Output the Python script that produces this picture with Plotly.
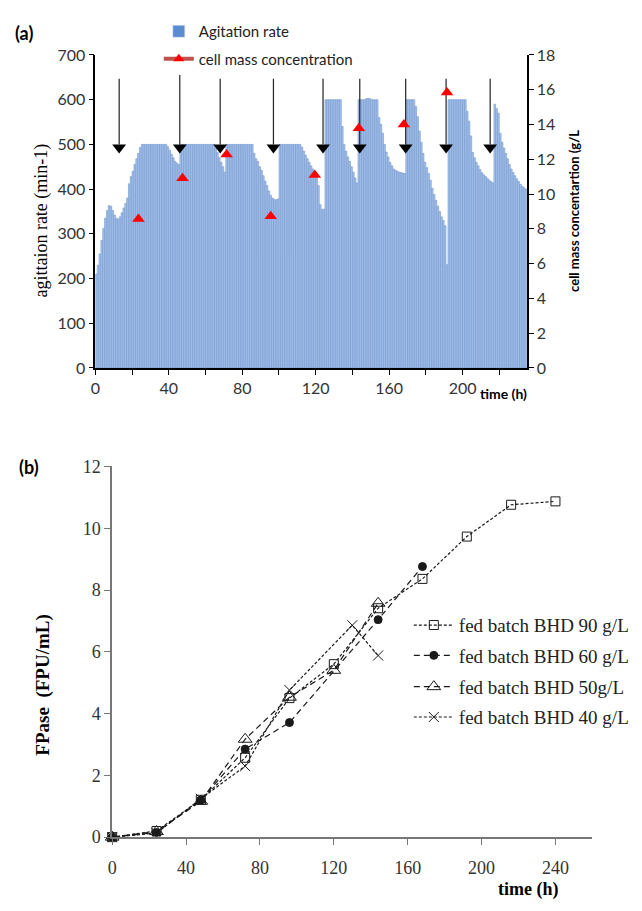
import plotly.graph_objects as go

# ---- panel (a): agitation rate (one bar per hour) and cell mass ----
agitation_rate = [
    210, 230, 255, 285, 312, 335, 352, 363, 362, 352, 342, 335, 333, 338, 347, 358,
    368, 380, 412, 428, 440, 455, 468, 480, 493, 500,
    500, 500, 500, 500, 500, 500, 500, 500, 500, 500, 500, 500, 500,
    495, 487, 478, 470, 462, 458, 455,
    500, 500, 500, 500, 500, 500, 500, 500, 500, 500, 500, 500, 500, 500, 500, 500, 500, 500, 500,
    492, 482, 470, 460, 450, 438,
    500, 500, 500, 500, 500, 500, 500, 500, 500, 500, 500, 500, 500, 500, 500,
    480, 468, 462, 450, 442, 430, 418, 408, 396, 386, 380, 377, 376, 378,
    500, 500, 500, 500, 500, 500, 500, 500, 500, 500, 500, 500,
    494, 485, 476, 468, 460, 452, 445, 438, 425, 408, 365, 355, 355,
    600, 600, 600, 600, 600, 600, 600, 600, 600,
    540, 500, 485, 472, 462, 450, 438, 425, 414,
    600, 600, 600, 600, 602, 603, 602, 600, 600, 600, 600,
    560, 545, 525, 500, 483, 472, 460, 452, 445, 442, 440, 438, 437, 436, 435,
    600, 600, 600, 600, 600,
    585, 562, 530, 505, 480, 460, 448, 435, 420, 402, 388, 375, 362, 350, 338, 330, 318, 231,
    600, 600, 600, 600, 600, 600, 600, 600, 600, 600,
    574, 552, 519, 482, 470, 460, 452, 444, 437, 432, 428, 424, 420, 417, 414,
    590, 580, 570, 525, 505, 492, 480, 468, 455, 445, 437, 430, 423, 417, 411, 406, 403, 400,
]
hours = list(range(len(agitation_rate)))

cell_mass_time = [23.5, 47.5, 71.5, 95.5, 119.5, 143.5, 168, 191.5]
cell_mass = [8.57, 10.91, 12.28, 8.72, 11.1, 13.78, 14.0, 15.84]

# feeding points (arrows)
feed_time = [13, 46, 68, 97, 124, 144, 169, 191, 215]
feed_top = [647, 655, 647, 647, 647, 647, 647, 647, 647]

# ---- panel (b): FPase for the fed batches ----
t_90 = [0, 24, 48, 72, 96, 120, 144, 168, 192, 216, 240]
fpase_90 = [0, 0.2, 1.21, 2.57, 4.5, 5.6, 7.41, 8.36, 9.73, 10.76, 10.87]
t_60 = [0, 24, 48, 72, 96, 144, 168]
fpase_60 = [0, 0.15, 1.2, 2.85, 3.71, 7.04, 8.76]
t_50 = [0, 24, 48, 72, 96, 120, 144]
fpase_50 = [0, 0.18, 1.16, 3.17, 4.53, 5.4, 7.57]
t_40 = [0, 24, 48, 72, 96, 130, 144]
fpase_40 = [0, 0.13, 1.24, 2.30, 4.76, 6.86, 5.88]

W, H = 642, 911
def px(x):
    return x / W
def py(y):
    return 1 - y / H

SANS = "Lato"
SERIF = "Liberation Serif"

fig = go.Figure()

# bars
fig.add_trace(go.Bar(
    x=hours, y=agitation_rate, offset=0.05, width=0.9,
    marker=dict(color="#abc5e9", line=dict(color="#6f96d1", width=0.6)),
    showlegend=False, xaxis="x", yaxis="y"))

# arrow shafts + heads
shaft_x, shaft_y = [], []
for t, top in zip(feed_time, feed_top):
    shaft_x += [t, t, None]
    shaft_y += [top, 500, None]
fig.add_trace(go.Scatter(x=shaft_x, y=shaft_y, mode="lines",
                         line=dict(color="#222", width=1.2),
                         showlegend=False, xaxis="x", yaxis="y"))
fig.add_trace(go.Scatter(x=feed_time, y=[493] * len(feed_time), mode="markers",
                         marker=dict(symbol="triangle-down", size=12, color="black"),
                         showlegend=False, xaxis="x", yaxis="y", cliponaxis=False))

# cell mass triangles
fig.add_trace(go.Scatter(x=cell_mass_time, y=cell_mass, mode="markers",
                         marker=dict(symbol="triangle-up", size=11, color="#ff0000"),
                         showlegend=False, xaxis="x", yaxis="y2", cliponaxis=False))

# legend entries for panel (a)
fig.add_trace(go.Bar(x=[None], y=[None], name="Agitation rate",
                     marker=dict(color="#5b8bd0"), legend="legend",
                     xaxis="x", yaxis="y"))
fig.add_trace(go.Scatter(x=[None], y=[None], name="cell mass concentration",
                         mode="lines+markers", line=dict(color="#c0504d", width=4),
                         marker=dict(symbol="triangle-up", size=10, color="#ff0000"),
                         legend="legend2", xaxis="x", yaxis="y2"))

# panel (b) series
series_b = [
    (t_90, fpase_90, "fed batch BHD 90 g/L", "square-open", 9, "3px,2px", "legend3"),
    (t_60, fpase_60, "fed batch BHD 60 g/L", "circle", 8, "6px,4px", "legend4"),
    (t_50, fpase_50, "fed batch BHD 50g/L", "triangle-up-open", 12, "6px,4px", "legend5"),
    (t_40, fpase_40, "fed batch BHD 40 g/L", "x-thin-open", 10, "3px,2px", "legend6"),
]
for t, v, name, sym, size, dash, leg in series_b:
    fig.add_trace(go.Scatter(
        x=t, y=v, name=name, mode="lines+markers",
        line=dict(color="#1a1a1a", width=1.2, dash=dash),
        marker=dict(symbol=sym, size=size, color="#1a1a1a",
                    line=dict(color="#1a1a1a", width=1)),
        legend=leg, xaxis="x2", yaxis="y3", cliponaxis=False))

tick_a = dict(family=SANS, size=16, color="#333")
tick_b = dict(family=SERIF, size=18, color="#333")

legend_a = dict(bgcolor="rgba(0,0,0,0)", font=dict(family=SANS, size=15, color="#222"),
                xanchor="left", yanchor="middle")
legend_b = dict(bgcolor="rgba(0,0,0,0)", font=dict(family=SERIF, size=19, color="#222"),
                xanchor="left", yanchor="middle", itemwidth=40)

fig.update_layout(
    width=W, height=H,
    margin=dict(l=0, r=0, t=0, b=0),
    paper_bgcolor="white", plot_bgcolor="white",
    barmode="overlay",
    xaxis=dict(domain=[px(91), px(526)], anchor="y", range=[0, 235],
               tickvals=[0, 40, 80, 120, 160, 200], ticks="outside", ticklen=5,
               tickcolor="black", tickfont=tick_a,
               minor=dict(dtick=20, tick0=0, ticks="outside", ticklen=5, tickcolor="black"),
               showline=True, linecolor="black", linewidth=1.5,
               showgrid=False, zeroline=False),
    yaxis=dict(domain=[py(366), py(46)], anchor="x", range=[0, 700], dtick=100,
               ticks="outside", ticklen=5, tickcolor="black", tickfont=tick_a,
               showline=True, linecolor="black", linewidth=1.5,
               showgrid=False, zeroline=False),
    yaxis2=dict(overlaying="y", side="right", anchor="x", range=[0, 18], dtick=2,
                ticks="outside", ticklen=5, tickcolor="black", tickfont=tick_a,
                showline=True, linecolor="black", linewidth=1.5,
                showgrid=False, zeroline=False),
    xaxis2=dict(domain=[px(108), px(592)], anchor="y3", range=[0, 260], dtick=40,
                ticks="outside", ticklen=6, tickcolor="#777", tickfont=tick_b,
                ticklabelstandoff=8,
                showline=True, linecolor="#777", linewidth=1.5,
                showgrid=False, zeroline=False),
    yaxis3=dict(domain=[py(845.7), py(466.7)], anchor="x2", range=[0, 12], dtick=2,
                ticks="outside", ticklen=6, tickcolor="#777", tickfont=tick_b,
                showline=True, linecolor="#777", linewidth=1.5,
                showgrid=False, zeroline=False),
    legend=dict(legend_a, x=px(155), y=py(22)),
    legend2=dict(legend_a, x=px(155), y=py(50)),
    legend3=dict(legend_b, x=px(407), y=py(629)),
    legend4=dict(legend_b, x=px(407), y=py(660)),
    legend5=dict(legend_b, x=px(407), y=py(692)),
    legend6=dict(legend_b, x=px(407), y=py(723)),
)

annotations = [
    dict(text="<b>(a)</b>", x=px(8), y=py(24), xanchor="left",
         font=dict(family=SANS, size=18, color="black")),
    dict(text="<b>(b)</b>", x=px(12), y=py(467), xanchor="left",
         font=dict(family=SANS, size=18, color="black")),
    dict(text="agittaion rate (min-1)", x=px(24), y=py(215), textangle=-90,
         font=dict(family=SERIF, size=18, color="black")),
    dict(text="<b>cell mass concentartion (g/L</b>", x=px(584), y=py(205), textangle=-90,
         font=dict(family=SANS, size=13, color="black")),
    dict(text="<b>time (h)</b>", x=px(528), y=py(392), xanchor="right",
         font=dict(family=SANS, size=14, color="black")),
    dict(text="<b>FPase&nbsp; (FPU/mL)</b>", x=px(25), y=py(690), textangle=-90,
         font=dict(family=SERIF, size=19, color="black")),
    dict(text="<b>time (h)</b>", x=px(559), y=py(899),
         font=dict(family=SERIF, size=18, color="black")),
]
for a in annotations:
    a.update(xref="paper", yref="paper", showarrow=False, yanchor=a.get("yanchor", "middle"))
fig.update_layout(annotations=annotations)

# the page body has an 8px default margin; drop it so the figure sits at 0,0
fig.write_html("out.html", config={"displayModeBar": False},
               post_script="document.body.style.margin='0';")
